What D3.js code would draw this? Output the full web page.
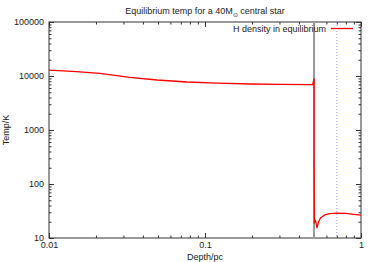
<!DOCTYPE html>
<html><head><meta charset="utf-8">
<script src="https://cdn.jsdelivr.net/npm/d3@7"></script>
<style>
html,body{margin:0;padding:0;background:#fff;}
svg text{font-family:"Liberation Sans",Arial,Helvetica,sans-serif;font-size:9px;fill:#222;}
</style></head>
<body><svg id="c" width="374" height="262"></svg>
<script>
const depth = [0.01, 0.015, 0.0212, 0.033, 0.0493, 0.0767, 0.12, 0.194, 0.3, 0.49, 0.5, 0.5, 0.5025, 0.510, 0.522, 0.535, 0.55, 0.58, 0.63, 0.70, 0.80, 0.90, 1.0];
const temp  = [12900, 12100, 11220, 9460, 8430, 7740, 7400, 7110, 6980, 6900, 8800, 380, 19, 21.5, 15.5, 20, 23.5, 26.5, 28.3, 29, 28.5, 27.5, 26.5];
const yTicks = [10, 100, 1000, 10000, 100000];
const yTickLabels = ["10", "100", "1000", "10000", "100000"];
const xTicks = [0.01, 0.1, 1];
const xTickLabels = ["0.01", "0.1", "1"];
const edgeDepth = 0.5;
const markerDepth = 0.7;
const titleMain = "Equilibrium temp for a 40M";
const titleSub = "\u2299";
const titleRest = " central star";
const xLabel = "Depth/pc";
const yLabel = "Temp/K";
const legendLabel = "H density in equilibrium";

const svg = d3.select("#c");
const L = 49, R = 361, T = 22, B = 238;
const x = d3.scaleLog().domain([0.01, 1]).range([L, R]);
const y = d3.scaleLog().domain([10, 100000]).range([B, T]);

function minors(dom){
  const out=[];
  for(let d=dom[0]; d<dom[1]*0.999; d*=10){ for(let k=2;k<=9;k++) out.push(d*k); }
  return out;
}
const xMinor = minors([0.01,1]);
const yMinor = minors([10,100000]);
const tickColor = "#333";

function drawAxis(axisFn, scale, majors, labels, minorVals, transform, showLabels, pad){
  const gMaj = svg.append("g").attr("transform", transform)
    .call(axisFn(scale).tickValues(majors).tickSizeInner(-5).tickSizeOuter(0)
      .tickPadding(pad).tickFormat((d,i)=> showLabels ? labels[i] : ""));
  gMaj.select(".domain").remove();
  gMaj.selectAll("line").attr("stroke", tickColor);
  gMaj.selectAll("text").style("font-size","9px").attr("fill","#222");
  const gMin = svg.append("g").attr("transform", transform)
    .call(axisFn(scale).tickValues(minorVals).tickSizeInner(-2.5).tickSizeOuter(0).tickFormat(""));
  gMin.select(".domain").remove();
  gMin.selectAll("line").attr("stroke", tickColor);
  return gMaj;
}
drawAxis(d3.axisLeft, y, yTicks, yTickLabels, yMinor, `translate(${L},0)`, true, 5);
drawAxis(d3.axisRight, y, yTicks, yTickLabels, yMinor, `translate(${R},0)`, false, 3);
drawAxis(d3.axisBottom, x, xTicks, xTickLabels, xMinor, `translate(0,${B})`, true, 3.5);
drawAxis(d3.axisTop, x, xTicks, xTickLabels, xMinor, `translate(0,${T})`, false, 3);

svg.append("rect").attr("x", L).attr("y", T).attr("width", R-L).attr("height", B-T)
  .attr("fill","none").attr("stroke","#333").attr("stroke-width",1);

svg.append("line").attr("x1", x(edgeDepth)).attr("x2", x(edgeDepth)).attr("y1", T).attr("y2", B)
  .attr("stroke","#999").attr("stroke-width",2);
svg.append("line").attr("x1", x(markerDepth)).attr("x2", x(markerDepth)).attr("y1", T).attr("y2", B)
  .attr("stroke","#7a7aff").attr("stroke-width",0.8).attr("stroke-dasharray","1,2");

const line = d3.line().x((d,i)=>x(depth[i])).y((d,i)=>y(temp[i]));
svg.append("path").datum(temp).attr("d", line).attr("fill","none")
  .attr("stroke","#ff0000").attr("stroke-width",1.3).attr("stroke-linejoin","round");

svg.append("text").attr("x", 326).attr("y", 31.5).attr("text-anchor","end").text(legendLabel);
svg.append("line").attr("x1",331).attr("x2",353).attr("y1",28.5).attr("y2",28.5)
  .attr("stroke","#ff0000").attr("stroke-width",1.3);

const t = svg.append("text").attr("x", (L+R)/2).attr("y", 14).attr("text-anchor","middle");
t.append("tspan").text(titleMain);
t.append("tspan").attr("dy", 2.5).style("font-size","6px").text(titleSub);
t.append("tspan").attr("dy", -2.5).text(titleRest);

svg.append("text").attr("x", (L+R)/2).attr("y", 260).attr("text-anchor","middle").text(xLabel);
svg.append("text").attr("transform", `translate(9,${(T+B)/2}) rotate(-90)`).attr("text-anchor","middle").text(yLabel);
</script></body></html>
